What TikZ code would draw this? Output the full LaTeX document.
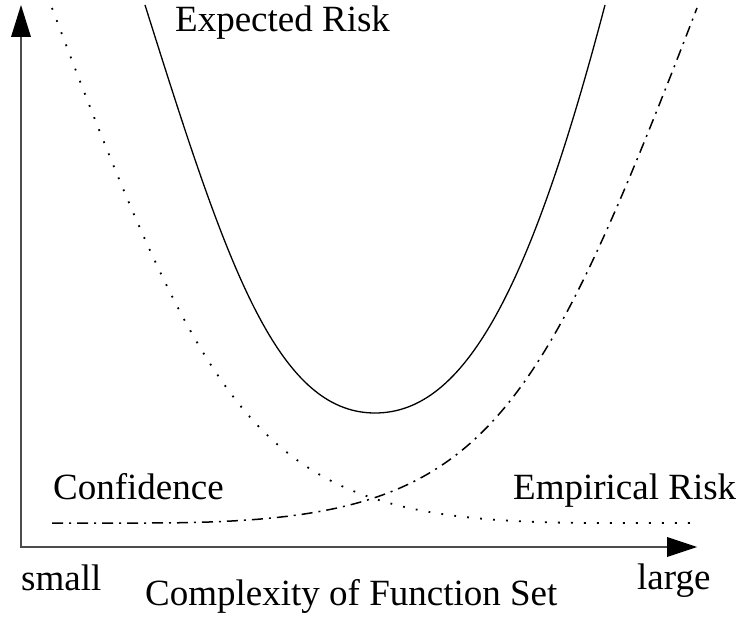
\documentclass[tikz,border=0pt]{standalone}
\usepackage{fontspec}
\setmainfont{Liberation Serif}
\begin{document}
\begin{tikzpicture}[x=1pt,y=-1pt,
  axisline/.style={line width=1.6pt,draw=black!70},
  axistip/.style={fill=black},
  lbl/.style={inner sep=0pt,anchor=base west,font=\fontsize{37}{42}\selectfont},
  expcurve/.style={line width=1.3pt},
  confcurve/.style={line width=1.8pt,dash pattern=on 1.8pt off 11.2pt},
  empcurve/.style={line width=1.5pt,dash pattern=on 11pt off 6pt on 2pt off 6pt}]
\useasboundingbox (0,0) rectangle (739,617);
% axes
\coordinate (origin) at (21,547);
\coordinate (ytop) at (21,37);
\coordinate (xend) at (667,547);
\draw[axisline] (ytop) -- (origin) -- (xend);
\fill[axistip] (11,37) -- (31,37) -- (21,5) -- cycle;
\fill[axistip] (667,537) -- (667,557) -- (697,547) -- cycle;
% expected risk
\coordinate (e0) at (145,5);
\coordinate (emin) at (375,413);
\coordinate (e1) at (605,5);
\draw[expcurve] (e0) .. controls (225,259) and (275,413) .. (emin)
  .. controls (465,413) and (530,290) .. (e1);
% confidence (dotted)
\coordinate (c0) at (52,8);
\coordinate (c1) at (600,523);
\coordinate (c2) at (690,523);
\draw[confcurve] (c0) .. controls (222,457) and (270,523) .. (c1) -- (c2);
% empirical risk (dash-dot)
\coordinate (r0) at (52,523);
\coordinate (r1) at (146,523);
\coordinate (r2) at (697,8);
\draw[empcurve] (r0) -- (r1) .. controls (476,523) and (524,457) .. (r2);
% labels
\node[lbl] (exp) at (175,32) {Expected Risk};
\node[lbl] (conf) at (53,499) {Confidence};
\node[lbl] (emp) at (513,499) {Empirical Risk};
\node[lbl] (small) at (21,590) {small};
\node[lbl] (large) at (637,589) {large};
\node[lbl] (xlabel) at (145,605) {Complexity of Function Set};
\end{tikzpicture}
\end{document}
